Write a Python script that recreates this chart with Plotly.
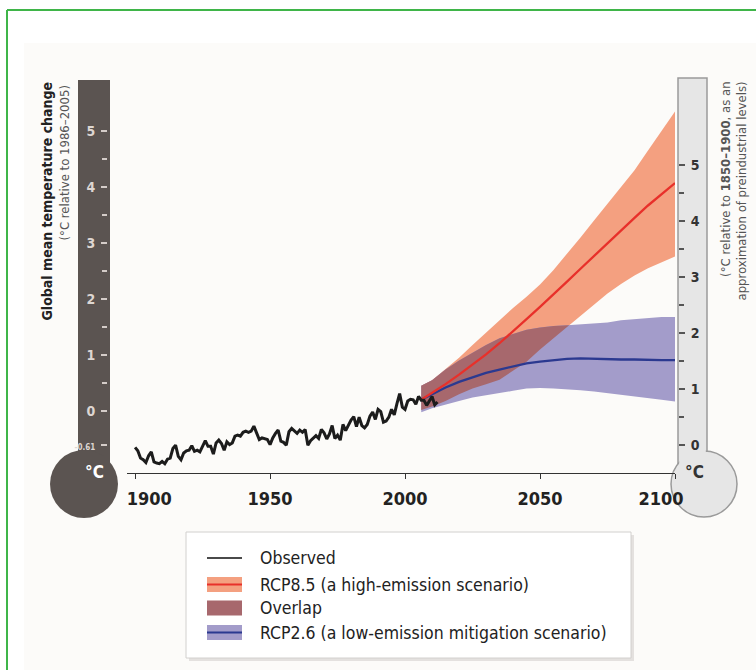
import numpy as np
import plotly.graph_objects as go

# ---------------- data ----------------
obs_years = list(range(1900, 2013))
obs_temp = [
    -0.65, -0.71, -0.84, -0.87, -0.92, -0.80, -0.73, -0.91, -0.93, -0.94,
    -0.90, -0.94, -0.86, -0.84, -0.67, -0.61, -0.81, -0.87, -0.75, -0.71,
    -0.70, -0.62, -0.72, -0.70, -0.73, -0.64, -0.53, -0.63, -0.63, -0.77,
    -0.57, -0.52, -0.58, -0.70, -0.55, -0.60, -0.57, -0.45, -0.43, -0.45,
    -0.38, -0.36, -0.38, -0.36, -0.27, -0.39, -0.51, -0.48, -0.50, -0.51,
    -0.60, -0.48, -0.40, -0.34, -0.54, -0.56, -0.61, -0.37, -0.31, -0.36,
    -0.40, -0.34, -0.38, -0.33, -0.61, -0.53, -0.48, -0.44, -0.49, -0.33,
    -0.39, -0.50, -0.41, -0.26, -0.49, -0.43, -0.52, -0.24, -0.35, -0.26,
    -0.16, -0.10, -0.28, -0.11, -0.26, -0.30, -0.24, -0.09, -0.02, -0.15,
    0.03, -0.01, -0.20, -0.18, -0.11, 0.03, -0.07, 0.13, 0.31, 0.07,
    0.03, 0.18, 0.21, 0.20, 0.12, 0.26, 0.19, 0.19, 0.10, 0.18,
    0.26, 0.11, 0.16,
]

proj_years = [2006, 2010, 2015, 2020, 2025, 2030, 2035, 2040, 2045, 2050,
              2055, 2060, 2065, 2070, 2075, 2080, 2085, 2090, 2095, 2100]
rcp85_mean = [0.20, 0.32, 0.48, 0.65, 0.83, 1.01, 1.21, 1.42, 1.64, 1.86,
              2.08, 2.31, 2.54, 2.77, 3.00, 3.23, 3.45, 3.67, 3.87, 4.07]
rcp85_upper = [0.45, 0.55, 0.75, 0.95, 1.18, 1.40, 1.62, 1.84, 2.04, 2.26,
               2.52, 2.80, 3.10, 3.40, 3.70, 4.00, 4.30, 4.65, 5.00, 5.35]
rcp85_lower = [0.02, 0.08, 0.18, 0.30, 0.40, 0.48, 0.56, 0.72, 0.88, 1.10,
               1.30, 1.50, 1.70, 1.90, 2.10, 2.27, 2.42, 2.55, 2.66, 2.76]
rcp26_mean = [0.20, 0.30, 0.42, 0.52, 0.60, 0.68, 0.74, 0.80, 0.85, 0.88,
              0.91, 0.93, 0.94, 0.93, 0.93, 0.92, 0.92, 0.91, 0.91, 0.91]
rcp26_upper = [0.45, 0.55, 0.74, 0.90, 1.04, 1.18, 1.30, 1.38, 1.45, 1.49,
               1.52, 1.53, 1.55, 1.56, 1.58, 1.62, 1.64, 1.66, 1.68, 1.68]
rcp26_lower = [-0.02, 0.05, 0.12, 0.18, 0.24, 0.28, 0.32, 0.36, 0.40, 0.41,
               0.40, 0.39, 0.37, 0.35, 0.33, 0.30, 0.27, 0.23, 0.20, 0.17]

x_tick_vals = [1900, 1950, 2000, 2050, 2100]
x_tick_text = ["\u00a0\u00a0\u00a0\u00a0\u00a01900", "1950", "2000", "2050",
               "2100\u00a0\u00a0\u00a0\u00a0\u00a0"]
left_tick_vals = [-0.61, 0, 1, 2, 3, 4, 5]
left_tick_text = ['<span style="font-size:8px">-0.61</span>', "0", "1", "2", "3", "4", "5"]
minor_tick_vals = [0.5, 1.5, 2.5, 3.5, 4.5]
right_tick_vals = [0, 1, 2, 3, 4, 5]
right_tick_text = ["0", "1", "2", "3", "4", "5"]
preindustrial_offset = 0.61

legend_labels = ["Observed", "RCP8.5 (a high-emission scenario)", "Overlap",
                 "RCP2.6 (a low-emission mitigation scenario)"]

# ---------------- style ----------------
W, H = 756, 670
FONT = "Liberation Sans Narrow, DejaVu Sans Condensed, Arial Narrow, Roboto Condensed, DejaVu Sans, sans-serif"
C_ORANGE = "#f4a080"
C_PURPLE = "#a39cca"
C_OVERLAP = "#a7686d"
C_RED = "#e8302a"
C_BLUE = "#2b3990"
C_OBS = "#1c1c1c"
C_DARK = "#5b5451"
C_LIGHT = "#e6e6e6"

X_RANGE = [1897, 2100]
Y_RANGE = [-1.107, 5.911]
PLOT_L, PLOT_R, PLOT_T, PLOT_B = 127, 675, 80, 473


def px(x):
    return x / W


def py(y):
    return 1 - y / H


# ---------------- overlap region (derived from band data) ----------------
yrs = np.array(proj_years, float)
lo = np.maximum(np.array(rcp85_lower), np.array(rcp26_lower))
hi = np.minimum(np.array(rcp85_upper), np.array(rcp26_upper))
ox, olo, ohi = [], [], []
for i in range(len(yrs)):
    if hi[i] >= lo[i]:
        ox.append(yrs[i]); olo.append(lo[i]); ohi.append(hi[i])
    else:
        if i > 0 and hi[i - 1] >= lo[i - 1]:
            d0 = hi[i - 1] - lo[i - 1]
            d1 = hi[i] - lo[i]
            t = d0 / (d0 - d1)
            xc = yrs[i - 1] + t * (yrs[i] - yrs[i - 1])
            yc = lo[i - 1] + t * (lo[i] - lo[i - 1])
            ox.append(xc); olo.append(yc); ohi.append(yc)
        break

fig = go.Figure()


def band(x, upper, lower, color):
    fig.add_trace(go.Scatter(
        x=list(x) + list(x)[::-1], y=list(upper) + list(lower)[::-1],
        fill="toself", fillcolor=color, line=dict(width=0),
        mode="lines", hoverinfo="skip", showlegend=False))


band(proj_years, rcp85_upper, rcp85_lower, C_ORANGE)
band(proj_years, rcp26_upper, rcp26_lower, C_PURPLE)
band(ox, ohi, olo, C_OVERLAP)

fig.add_trace(go.Scatter(x=proj_years, y=rcp26_mean, mode="lines",
                         line=dict(color=C_BLUE, width=2.3), showlegend=False))
fig.add_trace(go.Scatter(x=proj_years, y=rcp85_mean, mode="lines",
                         line=dict(color=C_RED, width=2.3), showlegend=False))
fig.add_trace(go.Scatter(x=obs_years, y=obs_temp, mode="lines",
                         line=dict(color=C_OBS, width=3), showlegend=False))
# invisible trace to activate the right-hand (pre-industrial) axis
fig.add_trace(go.Scatter(x=[obs_years[0]], y=[obs_temp[0] + preindustrial_offset],
                         yaxis="y2", mode="markers", marker=dict(opacity=0),
                         hoverinfo="skip", showlegend=False))

shapes = []
# background + green frame
shapes.append(dict(type="rect", xref="paper", yref="paper", layer="below",
                   x0=px(24), x1=1, y0=0, y1=py(43),
                   fillcolor="#fcfbf9", line=dict(width=0)))
shapes.append(dict(type="line", xref="paper", yref="paper", layer="above",
                   x0=px(7), x1=1, y0=py(10), y1=py(10),
                   line=dict(color="#3fb549", width=2)))
shapes.append(dict(type="line", xref="paper", yref="paper", layer="above",
                   x0=px(7), x1=px(7), y0=py(10), y1=0,
                   line=dict(color="#3fb549", width=2)))

# left thermometer (dark)
shapes.append(dict(type="rect", xref="paper", yref="paper", layer="below",
                   x0=px(78), x1=px(110), y0=py(470), y1=py(80),
                   fillcolor=C_DARK, line=dict(width=0)))
cx, cy, r = 84, 484, 34
shapes.append(dict(type="circle", xref="paper", yref="paper", layer="below",
                   x0=px(cx - r), x1=px(cx + r), y0=py(cy + r), y1=py(cy - r),
                   fillcolor=C_DARK, line=dict(width=0)))

# right thermometer (light, outlined)
shapes.append(dict(type="rect", xref="paper", yref="paper", layer="below",
                   x0=px(678), x1=px(707), y0=py(476), y1=py(78),
                   fillcolor=C_LIGHT, line=dict(color="#9a9a9a", width=1.5)))
cx, cy, r = 704, 484, 33
shapes.append(dict(type="circle", xref="paper", yref="paper", layer="below",
                   x0=px(cx - r), x1=px(cx + r), y0=py(cy + r), y1=py(cy - r),
                   fillcolor=C_LIGHT, line=dict(color="#9a9a9a", width=1.5)))
shapes.append(dict(type="rect", xref="paper", yref="paper", layer="below",
                   x0=px(679.2), x1=px(705.8), y0=py(470), y1=py(445),
                   fillcolor=C_LIGHT, line=dict(width=0)))

# custom legend box
shapes.append(dict(type="rect", xref="paper", yref="paper", layer="above",
                   x0=px(189), x1=px(634), y0=py(661), y1=py(535),
                   fillcolor="#e4e1df", line=dict(width=0)))
shapes.append(dict(type="rect", xref="paper", yref="paper", layer="above",
                   x0=px(186), x1=px(631), y0=py(658), y1=py(532),
                   fillcolor="#ffffff", line=dict(color="#d2d0ce", width=1)))
rows = [558, 584.5, 608, 632.5]
sym_x0, sym_x1 = 207, 242
shapes.append(dict(type="line", xref="paper", yref="paper", layer="above",
                   x0=px(sym_x0), x1=px(sym_x1), y0=py(rows[0]), y1=py(rows[0]),
                   line=dict(color="#4a4a4a", width=2)))
for row, fillc, linec in [(rows[1], C_ORANGE, C_RED), (rows[2], C_OVERLAP, None),
                          (rows[3], C_PURPLE, C_BLUE)]:
    shapes.append(dict(type="rect", xref="paper", yref="paper", layer="above",
                       x0=px(sym_x0), x1=px(sym_x1), y0=py(row + 7.5), y1=py(row - 7.5),
                       fillcolor=fillc, line=dict(width=0)))
    if linec:
        shapes.append(dict(type="line", xref="paper", yref="paper", layer="above",
                           x0=px(sym_x0), x1=px(sym_x1), y0=py(row), y1=py(row),
                           line=dict(color=linec, width=2)))

annotations = []
for row, label in zip(rows, legend_labels):
    annotations.append(dict(xref="paper", yref="paper", x=px(258), y=py(row),
                            xanchor="left", yanchor="middle", showarrow=False,
                            text=label, font=dict(family=FONT, size=17.5, color="#222222")))

annotations += [
    dict(xref="paper", yref="paper", x=px(83), y=py(484), text="<b>°C</b>",
         showarrow=False, font=dict(family=FONT, size=17, color="#ffffff")),
    dict(xref="paper", yref="paper", x=px(706), y=py(484), text="<b>°C</b>",
         showarrow=False, font=dict(family=FONT, size=17, color="#333333")),
    dict(xref="paper", yref="paper", x=px(46), y=py(80), xanchor="center", yanchor="top",
         textangle=-90, showarrow=False, text="<b>Global mean temperature change</b>",
         font=dict(family=FONT, size=14, color="#222222")),
    dict(xref="paper", yref="paper", x=px(64), y=py(84), xanchor="center", yanchor="top",
         textangle=-90, showarrow=False, text="(°C relative to 1986–2005)",
         font=dict(family=FONT, size=13, color="#555555")),
    dict(xref="paper", yref="paper", x=px(733), y=py(80), xanchor="center", yanchor="top",
         textangle=-90, showarrow=False, align="right",
         text="(°C relative to <b>1850–1900</b>, as an<br>approximation of preindustrial levels)",
         font=dict(family=FONT, size=13, color="#555555")),
]

fig.update_layout(
    width=W, height=H, autosize=False,
    margin=dict(l=0, r=0, t=0, b=0, pad=0),
    paper_bgcolor="#ffffff", plot_bgcolor="rgba(0,0,0,0)",
    showlegend=False,
    font=dict(family=FONT),
    shapes=shapes, annotations=annotations,
    xaxis=dict(
        domain=[px(PLOT_L), px(PLOT_R)], range=X_RANGE, anchor="y",
        showline=True, linecolor="#333333", linewidth=1,
        ticks="outside", ticklen=5, tickcolor="#333333", tickwidth=1,
        tickvals=x_tick_vals, ticktext=x_tick_text,
        tickfont=dict(family=FONT, size=18, color="#222222", weight="bold"),
        ticklabelstandoff=4,
        showgrid=False, zeroline=False, automargin=False, fixedrange=True,
    ),
    yaxis=dict(
        domain=[py(PLOT_B), py(PLOT_T)], range=Y_RANGE,
        anchor="free", position=px(107), side="left",
        showline=False, showgrid=False, zeroline=False,
        ticks="outside", ticklen=6, tickcolor="#d4ccc8", tickwidth=1.5,
        tickvals=left_tick_vals, ticktext=left_tick_text,
        tickfont=dict(family=FONT, size=14, color="#ddd6d1", weight="bold"),
        ticklabelstandoff=3,
        minor=dict(tickmode="array", tickvals=minor_tick_vals, ticks="outside",
                   ticklen=5, tickcolor="#d4ccc8", tickwidth=1.5),
        automargin=False, fixedrange=True,
    ),
    yaxis2=dict(
        overlaying="y", domain=[py(PLOT_B), py(PLOT_T)],
        range=[Y_RANGE[0] + preindustrial_offset, Y_RANGE[1] + preindustrial_offset],
        anchor="free", position=px(678), side="right",
        showline=False, showgrid=False, zeroline=False,
        ticks="outside", ticklen=6, tickcolor="#555555", tickwidth=1.5,
        tickvals=right_tick_vals, ticktext=right_tick_text,
        tickfont=dict(family=FONT, size=14, color="#333333", weight="bold"),
        ticklabelstandoff=3,
        minor=dict(tickmode="array", tickvals=minor_tick_vals, ticks="outside",
                   ticklen=5, tickcolor="#555555", tickwidth=1.5),
        automargin=False, fixedrange=True,
    ),
)

fig.write_html("out.html", config={"displayModeBar": False, "staticPlot": True},
               post_script="document.body.style.margin='0px';")
